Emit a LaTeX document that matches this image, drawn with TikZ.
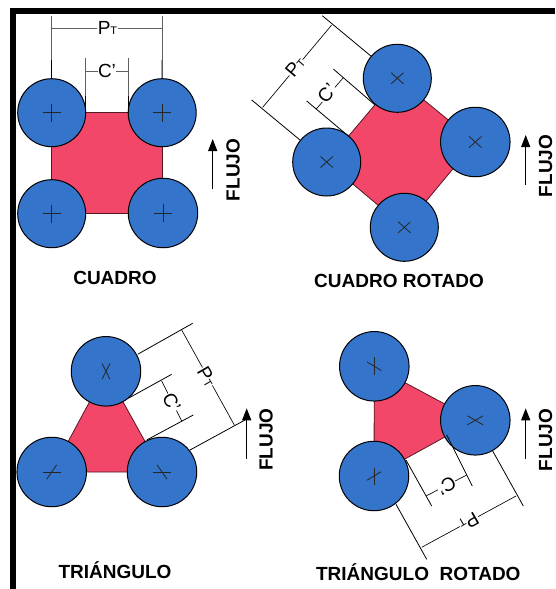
\documentclass[tikz,border=0pt]{standalone}
\usepackage{fontspec}
\setmainfont{Liberation Sans}
\usetikzlibrary{calc,arrows.meta}
\definecolor{tube}{HTML}{3474CA}
\definecolor{pitch}{HTML}{F24768}
\definecolor{graydim}{HTML}{606060}
\newcommand{\ptlabel}{{\fontsize{19}{20}\selectfont P\fontsize{11}{11}\selectfont T}}
\newcommand{\cplabel}{{\fontsize{19}{20}\selectfont C’}}
\newcommand{\tubecross}[5]{%
  \draw[crossline] ($(#1)+(#2:#4)$) -- ($(#1)-(#2:#4)$);
  \draw[crossline] ($(#1)+(#3:#5)$) -- ($(#1)-(#3:#5)$);}
\tikzset{
  tubeA/.style={circle,draw=black,line width=1pt,fill=tube,inner sep=0pt,minimum size=68pt},
  tubeB/.style={tubeA,minimum size=69.5pt},
  pitcharea/.style={fill=pitch,draw=black!65!pitch,line width=0.8pt},
  crossline/.style={draw=black!85,line width=0.8pt},
  extline/.style={draw=black,line width=0.8pt},
  dimline/.style={draw=black,line width=0.65pt},
  greydim/.style={draw=graydim,line width=0.8pt},
  dimtext/.style={fill=white,inner sep=0.5pt},
  flowarrow/.style={draw=black,line width=1.2pt,-{Triangle[length=12pt,width=9pt]}},
  flowtext/.style={font=\fontsize{19}{20}\selectfont\bfseries,rotate=90},
  caption/.style={font=\fontsize{19}{20}\selectfont\bfseries}
}
\begin{document}
\begin{tikzpicture}[x=1pt,y=-1pt]
\useasboundingbox (0,0) rectangle (555,589);
\fill[black] (10,8) rectangle (555,14);
\fill[black] (10,8) rectangle (16,589);

% ---------- CUADRO
\coordinate (q1) at (51.7,112.7);\coordinate (q2) at (162.2,112.7);
\coordinate (q3) at (162.2,213.7);\coordinate (q4) at (51.7,213.7);
\draw[pitcharea] (q1) -- (q2) -- (q3) -- (q4) -- cycle;
\node[tubeA] (qa) at (q1) {};\node[tubeA] (qb) at (q2) {};
\node[tubeA] (qc) at (q4) {};\node[tubeB] (qd) at (163,213) {};
\tubecross{qa}{0}{90}{9}{9}\tubecross{qb}{0}{90}{9}{9}
\tubecross{qc}{0}{90}{9}{9}\tubecross{qd}{0}{90}{9}{9}
\coordinate (qp1) at (51.7,16);\coordinate (qp1m) at (51.7,60);
\coordinate (qp2) at (162,16);\coordinate (qp2m) at (162,60);
\coordinate (qpd1) at (51.7,28.3);\coordinate (qpd2) at (162,28.3);
\draw[greydim] (qp1) -- (qp1m);\draw[greydim] (qp2) -- (qp2m);
\draw[line width=1pt] (qp1m) -- (qa.north);\draw[line width=1pt] (qp2m) -- (qb.north);
\coordinate (qc1) at (85.7,58);\coordinate (qc1m) at (85.7,96);\coordinate (qc1e) at (85.7,112.7);
\coordinate (qc2) at (128,58);\coordinate (qc2m) at (128,96);\coordinate (qc2e) at (128,112.7);
\coordinate (qcd1) at (85.7,71);\coordinate (qcd2) at (128,71);
\draw[greydim] (qc1) -- (qc1m);\draw[greydim] (qc2) -- (qc2m);
\draw[extline] (qc1m) -- (qc1e);\draw[extline] (qc2m) -- (qc2e);
\draw[greydim] (qpd1) -- (qpd2);\draw[greydim] (qcd1) -- (qcd2);
\node[dimtext] (qpt) at (107.5,28.3) {\ptlabel};
\node[dimtext] (qct) at (107,71) {\cplabel};
\coordinate (qf1) at (212.7,189);\coordinate (qf2) at (212.7,139);
\draw[flowarrow] (qf1) -- (qf2);
\node[flowtext] (qft) at (233,170) {FLUJO};
\node[caption] (qcap) at (115,278) {CUADRO};

% ---------- CUADRO ROTADO
\coordinate (r1) at (397.3,78.3);\coordinate (r2) at (475.3,142);
\coordinate (r3) at (404.3,227.3);\coordinate (r4) at (326.7,162);
\draw[pitcharea] (r1) -- (r2) -- (r3) -- (r4) -- cycle;
\node[tubeA] (ra) at (r1) {};\node[tubeB] (rb) at (r2) {};
\node[tubeA] (rc) at (r3) {};\node[tubeA] (rd) at (r4) {};
\tubecross{ra}{42}{-42}{8.3}{8.3}\tubecross{rb}{42}{-42}{8.3}{8.3}
\tubecross{rc}{42}{-42}{8.3}{8.3}\tubecross{rd}{42}{-42}{8.3}{8.3}
\coordinate (rp1) at (322.3,15.7);\coordinate (rp1e) at (371.7,56.7);
\coordinate (rp2) at (251.7,100);\coordinate (rp2e) at (300,140);
\coordinate (rpd1) at (331.7,25);\coordinate (rpd2) at (262.7,107.3);
\draw[extline] (rp1) -- (rp1e);\draw[extline] (rp2) -- (rp2e);
\draw[dimline] (rpd1) -- (rpd2);
\coordinate (rc1) at (333.3,69);\coordinate (rc1e) at (375,105);
\coordinate (rc2) at (306.7,101);\coordinate (rc2e) at (348.3,136);
\coordinate (rcd1) at (343.3,77.7);\coordinate (rcd2) at (316,109.3);
\draw[extline] (rc1) -- (rc1e);\draw[extline] (rc2) -- (rc2e);
\draw[dimline] (rcd1) -- (rcd2);
\node[dimtext,rotate=50] (rpt) at (295,66.7) {\ptlabel};
\node[dimtext,rotate=50] (rct) at (327,93.3) {\cplabel};
\coordinate (rf1) at (525.7,185);\coordinate (rf2) at (525.7,135);
\draw[flowarrow] (rf1) -- (rf2);
\node[flowtext] (rft) at (545.7,166) {FLUJO};
\node[caption] (rcap) at (399,280.7) {CUADRO ROTADO};

% ---------- TRIANGULO
\coordinate (t1) at (106,371.3);\coordinate (t2) at (162,472);\coordinate (t3) at (51.7,472);
\draw[pitcharea] (t1) -- (t2) -- (t3) -- cycle;
\node[tubeB] (ta) at (t1) {};\node[tubeB] (tb) at (t2) {};\node[tubeB] (tc) at (t3) {};
\tubecross{ta}{63}{117}{8.8}{8.8}
\tubecross{tb}{0}{55}{9}{8.7}
\tubecross{tc}{0}{-55}{9}{8.7}
\coordinate (tp1) at (137.7,354.3);\coordinate (tp1e) at (192.7,323.3);
\coordinate (tp2) at (190,450);\coordinate (tp2e) at (245,420);
\coordinate (tpd1) at (181.7,330);\coordinate (tpd2) at (234.3,425);
\draw[extline] (tp1) -- (tp1e);\draw[extline] (tp2) -- (tp2e);
\draw[dimline] (tpd1) -- (tpd2);
\coordinate (tc1) at (128.3,398.3);\coordinate (tc1e) at (171.7,374.3);
\coordinate (tc2) at (146.7,440);\coordinate (tc2e) at (193.3,415);
\coordinate (tcd1) at (161.7,381);\coordinate (tcd2) at (181.7,421);
\draw[extline] (tc1) -- (tc1e);\draw[extline] (tc2) -- (tc2e);
\draw[dimline] (tcd1) -- (tcd2);
\node[dimtext,rotate=-60] (tpt) at (207,376.7) {\ptlabel};
\node[dimtext,rotate=-62] (tct) at (171.7,402.3) {\cplabel};
\coordinate (tf1) at (246.7,459);\coordinate (tf2) at (246.7,408.3);
\draw[flowarrow] (tf1) -- (tf2);
\node[flowtext] (tft) at (266,439.7) {FLUJO};
\node[caption] (tcap) at (115,570) {TRIÁNGULO};

% ---------- TRIANGULO ROTADO
\coordinate (u1) at (374.3,366.3);\coordinate (u2) at (475.3,420.3);\coordinate (u3) at (374,476);
\draw[pitcharea] (u1) -- (u2) -- (u3) -- cycle;
\node[tubeB] (ua) at (u1) {};\node[tubeB] (ub) at (u2) {};\node[tubeB] (uc) at (u3) {};
\tubecross{ua}{90}{31}{9}{8.4}
\tubecross{ub}{30}{-30}{9}{9}
\tubecross{uc}{90}{-31}{8.5}{8.4}
\coordinate (up1) at (396,504.3);\coordinate (up1e) at (426.7,559.3);
\coordinate (up2) at (492.7,451);\coordinate (up2e) at (523.3,506);
\coordinate (upd1) at (421.7,547.3);\coordinate (upd2) at (516,496);
\draw[extline] (up1) -- (up1e);\draw[extline] (up2) -- (up2e);
\draw[dimline] (upd1) -- (upd2);
\coordinate (uc1) at (406,460);\coordinate (uc1e) at (431.7,506);
\coordinate (uc2) at (446.7,435);\coordinate (uc2e) at (472.3,486);
\coordinate (ucd1) at (426,496);\coordinate (ucd2) at (466.7,475);
\draw[extline] (uc1) -- (uc1e);\draw[extline] (uc2) -- (uc2e);
\draw[dimline] (ucd1) -- (ucd2);
\node[dimtext,rotate=210] (upt) at (469,521.7) {\ptlabel};
\node[dimtext,rotate=208] (uct) at (446.7,485.7) {\cplabel};
\coordinate (uf1) at (525.7,459);\coordinate (uf2) at (525.7,408.3);
\draw[flowarrow] (uf1) -- (uf2);
\node[flowtext] (uft) at (545.7,440) {FLUJO};
\node[caption] (ucap) at (418.3,571.7) {TRIÁNGULO\ \ ROTADO};
\end{tikzpicture}
\end{document}
